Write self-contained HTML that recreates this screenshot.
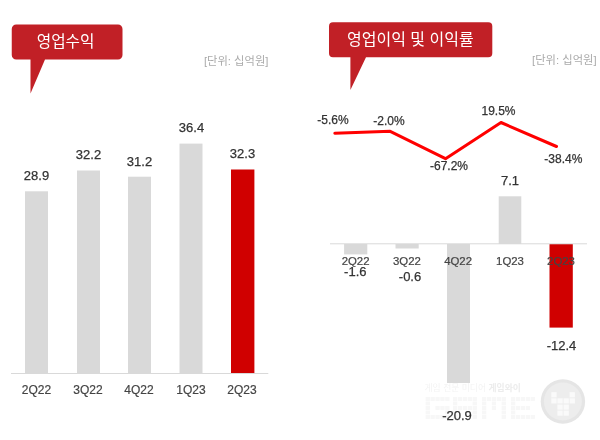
<!DOCTYPE html>
<html><head><meta charset="utf-8">
<style>
html,body{margin:0;padding:0;background:#fff;}
body{width:600px;height:440px;overflow:hidden;}
svg{display:block;}
text{font-family:"Liberation Sans","NanumGothic",sans-serif;}
.v{font-size:13px;fill:#333;stroke:#333;stroke-width:0.25px;text-anchor:middle;}
.x{font-size:12px;fill:#444;stroke:#444;stroke-width:0.2px;text-anchor:middle;}
.r{font-size:11.4px !important;}
.p{font-size:12px;fill:#333;stroke:#333;stroke-width:0.25px;text-anchor:middle;}
.u{font-size:11.3px;fill:#aaa;text-anchor:middle;font-family:"Liberation Sans","Noto Sans CJK KR",sans-serif;}
.t{font-size:15.7px;fill:#fff;text-anchor:middle;font-family:"Liberation Sans","Noto Sans CJK KR",sans-serif;}
</style></head><body>
<svg width="600" height="440" viewBox="0 0 600 440">
<rect width="600" height="440" fill="#fff"/>
<!-- left bubble -->
<path d="M16.250 24.500H118a4.500 4.500 0 0 1 4.500 4.500V55a4.500 4.500 0 0 1-4.500 4.500H45L30.500 93.500V59.500H16.250a4.500 4.500 0 0 1-4.500-4.500V29a4.500 4.500 0 0 1 4.500-4.500Z" fill="#c12026"/>
<text class="t" x="65.600" y="47.400">영업수익</text>
<text class="u" x="236.200" y="64.700">[단위: 십억원]</text>
<!-- left bars -->
<rect x="25" y="191.300" width="23" height="181.700" fill="#d9d9d9"/>
<rect x="77" y="170.5" width="23" height="202.5" fill="#d9d9d9"/>
<rect x="128" y="176.700" width="23" height="196.300" fill="#d9d9d9"/>
<rect x="179.500" y="143.600" width="23" height="229.400" fill="#d9d9d9"/>
<rect x="231" y="169.500" width="23.400" height="203.500" fill="#d00000"/>
<line x1="11" y1="373.500" x2="268.300" y2="373.500" stroke="#d9d9d9" stroke-width="1"/>
<text class="v" x="36.5" y="180">28.9</text>
<text class="v" x="88.5" y="159.200">32.2</text>
<text class="v" x="139.5" y="166">31.2</text>
<text class="v" x="191.5" y="132">36.4</text>
<text class="v" x="242.5" y="158">32.3</text>
<text class="x" x="36.500" y="394.300">2Q22</text>
<text class="x" x="88" y="394.300">3Q22</text>
<text class="x" x="139" y="394.300">4Q22</text>
<text class="x" x="191" y="394.300">1Q23</text>
<text class="x" x="242" y="394.300">2Q23</text>
<!-- right bubble -->
<path d="M333 22.300H488.300a4 4 0 0 1 4 4V53.300a4 4 0 0 1-4 4H366L350.400 90V57.300H333a4 4 0 0 1-4-4V26.300a4 4 0 0 1 4-4Z" fill="#c12026"/>
<text class="t" style="font-size:16px" x="410.300" y="45.400">영업이익 및 이익률</text>
<text class="u" x="564.300" y="63.500">[단위: 십억원]</text>
<!-- watermark -->
<g>
<circle cx="562.900" cy="401.500" r="22.200" fill="#e5e5e5"/>
<circle cx="562.900" cy="401.500" r="19" fill="#ededed"/>
<rect x="551.3" y="392.2" width="5.300" height="5.200" fill="#fafafa"/>
<rect x="569.6" y="392.2" width="5.300" height="5.200" fill="#fafafa"/>
<rect x="551.3" y="398.3" width="5.300" height="5.200" fill="#fafafa"/>
<rect x="557.4" y="398.3" width="5.300" height="5.200" fill="#fafafa"/>
<rect x="563.5" y="398.3" width="5.300" height="5.200" fill="#fafafa"/>
<rect x="569.6" y="398.3" width="5.300" height="5.200" fill="#fafafa"/>
<rect x="557.4" y="404.5" width="5.300" height="5.200" fill="#fafafa"/>
<rect x="563.5" y="404.5" width="5.300" height="5.200" fill="#fafafa"/>
<rect x="557.4" y="410.5" width="5.300" height="5.200" fill="#fafafa"/>
<rect x="563.5" y="410.5" width="5.300" height="5.200" fill="#fafafa"/>
<rect x="425.6" y="397.0" width="4.300" height="3.900" fill="#f7f7f7"/>
<rect x="430.5" y="397.0" width="4.300" height="3.900" fill="#f7f7f7"/>
<rect x="435.4" y="397.0" width="4.300" height="3.900" fill="#f7f7f7"/>
<rect x="440.3" y="397.0" width="4.300" height="3.900" fill="#f7f7f7"/>
<rect x="445.2" y="397.0" width="4.300" height="3.900" fill="#f7f7f7"/>
<rect x="425.6" y="401.5" width="4.300" height="3.900" fill="#f7f7f7"/>
<rect x="425.6" y="406.0" width="4.300" height="3.900" fill="#f7f7f7"/>
<rect x="435.4" y="406.0" width="4.300" height="3.900" fill="#f7f7f7"/>
<rect x="440.3" y="406.0" width="4.300" height="3.900" fill="#f7f7f7"/>
<rect x="445.2" y="406.0" width="4.300" height="3.900" fill="#f7f7f7"/>
<rect x="425.6" y="410.5" width="4.300" height="3.900" fill="#f7f7f7"/>
<rect x="445.2" y="410.5" width="4.300" height="3.900" fill="#f7f7f7"/>
<rect x="425.6" y="415.0" width="4.300" height="3.900" fill="#f7f7f7"/>
<rect x="430.5" y="415.0" width="4.300" height="3.900" fill="#f7f7f7"/>
<rect x="435.4" y="415.0" width="4.300" height="3.900" fill="#f7f7f7"/>
<rect x="440.3" y="415.0" width="4.300" height="3.900" fill="#f7f7f7"/>
<rect x="445.2" y="415.0" width="4.300" height="3.900" fill="#f7f7f7"/>
<rect x="453.0" y="397.0" width="4.300" height="3.900" fill="#f7f7f7"/>
<rect x="457.9" y="397.0" width="4.300" height="3.900" fill="#f7f7f7"/>
<rect x="462.8" y="397.0" width="4.300" height="3.900" fill="#f7f7f7"/>
<rect x="467.7" y="397.0" width="4.300" height="3.900" fill="#f7f7f7"/>
<rect x="472.6" y="397.0" width="4.300" height="3.900" fill="#f7f7f7"/>
<rect x="453.0" y="401.5" width="4.300" height="3.900" fill="#f7f7f7"/>
<rect x="472.6" y="401.5" width="4.300" height="3.900" fill="#f7f7f7"/>
<rect x="453.0" y="406.0" width="4.300" height="3.900" fill="#f7f7f7"/>
<rect x="457.9" y="406.0" width="4.300" height="3.900" fill="#f7f7f7"/>
<rect x="462.8" y="406.0" width="4.300" height="3.900" fill="#f7f7f7"/>
<rect x="467.7" y="406.0" width="4.300" height="3.900" fill="#f7f7f7"/>
<rect x="472.6" y="406.0" width="4.300" height="3.900" fill="#f7f7f7"/>
<rect x="453.0" y="410.5" width="4.300" height="3.900" fill="#f7f7f7"/>
<rect x="472.6" y="410.5" width="4.300" height="3.900" fill="#f7f7f7"/>
<rect x="453.0" y="415.0" width="4.300" height="3.900" fill="#f7f7f7"/>
<rect x="472.6" y="415.0" width="4.300" height="3.900" fill="#f7f7f7"/>
<rect x="482.0" y="397.0" width="4.300" height="3.900" fill="#f7f7f7"/>
<rect x="486.9" y="397.0" width="4.300" height="3.900" fill="#f7f7f7"/>
<rect x="491.8" y="397.0" width="4.300" height="3.900" fill="#f7f7f7"/>
<rect x="496.7" y="397.0" width="4.300" height="3.900" fill="#f7f7f7"/>
<rect x="501.6" y="397.0" width="4.300" height="3.900" fill="#f7f7f7"/>
<rect x="482.0" y="401.5" width="4.300" height="3.900" fill="#f7f7f7"/>
<rect x="491.8" y="401.5" width="4.300" height="3.900" fill="#f7f7f7"/>
<rect x="501.6" y="401.5" width="4.300" height="3.900" fill="#f7f7f7"/>
<rect x="482.0" y="406.0" width="4.300" height="3.900" fill="#f7f7f7"/>
<rect x="491.8" y="406.0" width="4.300" height="3.900" fill="#f7f7f7"/>
<rect x="501.6" y="406.0" width="4.300" height="3.900" fill="#f7f7f7"/>
<rect x="482.0" y="410.5" width="4.300" height="3.900" fill="#f7f7f7"/>
<rect x="501.6" y="410.5" width="4.300" height="3.900" fill="#f7f7f7"/>
<rect x="482.0" y="415.0" width="4.300" height="3.900" fill="#f7f7f7"/>
<rect x="501.6" y="415.0" width="4.300" height="3.900" fill="#f7f7f7"/>
<rect x="511.0" y="397.0" width="4.300" height="3.900" fill="#f7f7f7"/>
<rect x="515.9" y="397.0" width="4.300" height="3.900" fill="#f7f7f7"/>
<rect x="520.8" y="397.0" width="4.300" height="3.900" fill="#f7f7f7"/>
<rect x="525.7" y="397.0" width="4.300" height="3.900" fill="#f7f7f7"/>
<rect x="530.6" y="397.0" width="4.300" height="3.900" fill="#f7f7f7"/>
<rect x="511.0" y="401.5" width="4.300" height="3.900" fill="#f7f7f7"/>
<rect x="511.0" y="406.0" width="4.300" height="3.900" fill="#f7f7f7"/>
<rect x="515.9" y="406.0" width="4.300" height="3.900" fill="#f7f7f7"/>
<rect x="520.8" y="406.0" width="4.300" height="3.900" fill="#f7f7f7"/>
<rect x="525.7" y="406.0" width="4.300" height="3.900" fill="#f7f7f7"/>
<rect x="511.0" y="410.5" width="4.300" height="3.900" fill="#f7f7f7"/>
<rect x="511.0" y="415.0" width="4.300" height="3.900" fill="#f7f7f7"/>
<rect x="515.9" y="415.0" width="4.300" height="3.900" fill="#f7f7f7"/>
<rect x="520.8" y="415.0" width="4.300" height="3.900" fill="#f7f7f7"/>
<rect x="525.7" y="415.0" width="4.300" height="3.900" fill="#f7f7f7"/>
<rect x="530.6" y="415.0" width="4.300" height="3.900" fill="#f7f7f7"/>
<text x="424.500" y="390.500" style="font-size:8.8px;fill:#f3f3f3;font-family:'Liberation Sans','Noto Sans CJK KR',sans-serif">게임 전문 미디어 <tspan style="font-weight:bold;fill:#ececec">게임와이</tspan></text>
</g>
<!-- right bars -->
<rect x="344.100" y="244" width="23.200" height="10.400" fill="#d9d9d9"/>
<rect x="395.500" y="244" width="23.200" height="4.500" fill="#d9d9d9"/>
<rect x="447" y="244" width="23" height="139" fill="#d9d9d9"/>
<rect x="498.700" y="196.300" width="22.600" height="47.700" fill="#d9d9d9"/>
<rect x="549.500" y="244" width="23.300" height="83.600" fill="#d00000"/>
<line x1="330" y1="243.800" x2="587" y2="243.800" stroke="#d9d9d9" stroke-width="1"/>
<text class="x r" x="355.600" y="265.100">2Q22</text>
<text class="x r" x="406.900" y="265.100">3Q22</text>
<text class="x r" x="458.100" y="265.100">4Q22</text>
<text class="x r" x="510" y="265.100">1Q23</text>
<text class="x r" x="561" y="265.100">2Q23</text>
<text class="v" x="355.300" y="276.400">-1.6</text>
<text class="v" x="410" y="281.300">-0.6</text>
<text class="v" x="457" y="420">-20.9</text>
<text class="v" x="510" y="184.500">7.1</text>
<text class="v" x="561.500" y="349.700">-12.4</text>
<polyline points="334.800,133.300 390.200,131.300 445.500,158.700 501,122.500 556.500,146.500" fill="none" stroke="#ff0000" stroke-width="3" stroke-linecap="round" stroke-linejoin="round"/>
<text class="p" x="333" y="124">-5.6%</text>
<text class="p" x="389" y="124.800">-2.0%</text>
<text class="p" x="449" y="170.400">-67.2%</text>
<text class="p" x="498.500" y="114.600">19.5%</text>
<text class="p" x="563.300" y="162.900">-38.4%</text>
</svg>
</body></html>
